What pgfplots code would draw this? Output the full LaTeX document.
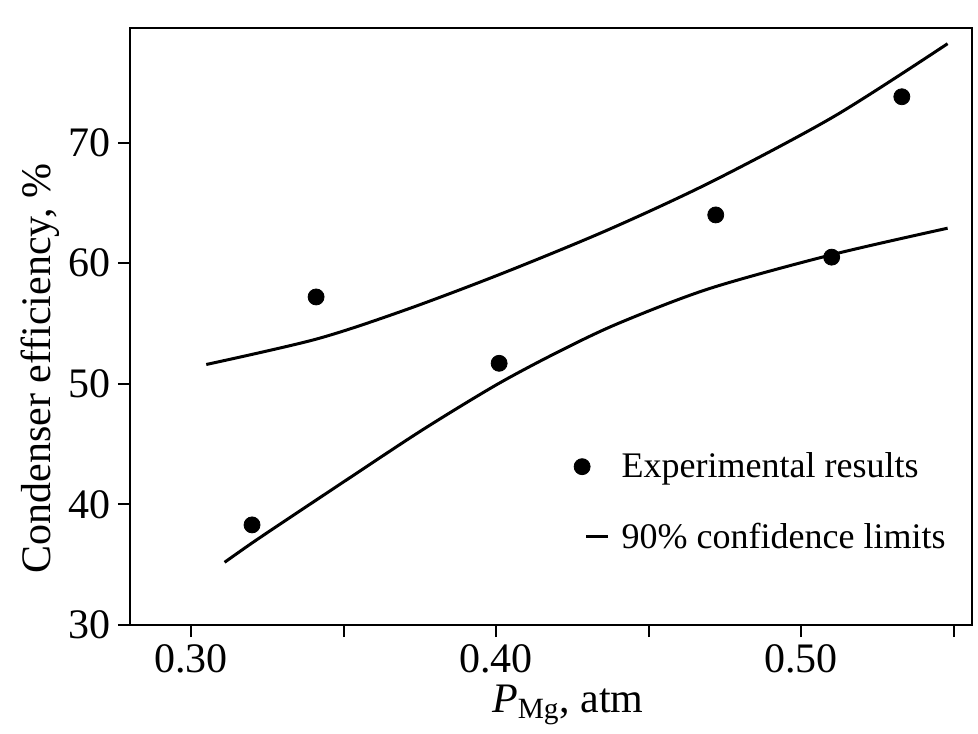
\documentclass[border=0pt]{standalone}
\usepackage{fontspec}
\setmainfont{Liberation Serif}
\usepackage{pgfplots}
\pgfplotsset{compat=1.18}
\pgfplotsset{
  legmark/.style={legend image code/.code={\draw[##1] plot coordinates {(4pt,0pt)}; \path (21pt,0pt);}},
  legline/.style={legend image code/.code={\draw[##1] (6pt,0pt) -- (17pt,0pt); \path (21pt,0pt);}},
}
\begin{document}
\begin{tikzpicture}
\begin{axis}[
  scale only axis, width=421pt, height=298.5pt,
  xmin=0.28, xmax=0.556, ymin=30, ymax=79.5,
  axis line style={line width=1pt},
  xtick={0.30,0.35,0.40,0.45,0.50,0.55},
  xticklabels={0.30,,0.40,,0.50,},
  ytick={30,40,50,60,70},
  tick align=outside, xtick pos=bottom, ytick pos=left,
  major tick length=6pt,
  tick style={line width=1pt, black},
  tick label style={font=\fontsize{21}{25}\selectfont},
  /pgf/number format/assume math mode=true,
  xlabel={\textit{P}\textsubscript{Mg}, atm},
  ylabel={Condenser efficiency, \%},
  every axis x label/.style={at={(axis description cs:0.52,-0.134)}, anchor=center, font=\fontsize{21}{25}\selectfont},
  every axis y label/.style={at={(axis description cs:-0.107,0.43)}, rotate=90, anchor=center, font=\fontsize{21}{25}\selectfont},
  legend style={draw=none, fill=none, at={(axis description cs:0.527,0.296)}, anchor=north west,
    font=\fontsize{18}{22}\selectfont, row sep=17pt, inner sep=0pt},
  legend cell align=left,
]
\addplot[only marks, mark=*, mark size=4pt, black, legmark]
  coordinates {(0.320,38.3) (0.341,57.2) (0.401,51.7) (0.472,64.0) (0.510,60.5) (0.533,73.8)};
\addlegendentry{Experimental results}
\addplot[black, line width=1.5pt, smooth, no marks, legline]
  coordinates {(0.305,51.6) (0.341,53.7) (0.370,56.1) (0.402,59.15) (0.437,62.8) (0.471,66.8) (0.511,72.2) (0.548,78.2)};
\addlegendentry{90\% confidence limits}
\addplot[black, line width=1.5pt, smooth, no marks, forget plot]
  coordinates {(0.311,35.2) (0.320,36.8) (0.330,38.5) (0.352,42.2) (0.376,46.2) (0.400,49.9) (0.420,52.6) (0.440,55.0) (0.470,57.9) (0.510,60.7) (0.548,62.9)};
\end{axis}
\pgfresetboundingbox
\path[use as bounding box] ([xshift=-65pt,yshift=-54pt]current axis.south west) rectangle ([xshift=3pt,yshift=14pt]current axis.north east);
\end{tikzpicture}
\end{document}
